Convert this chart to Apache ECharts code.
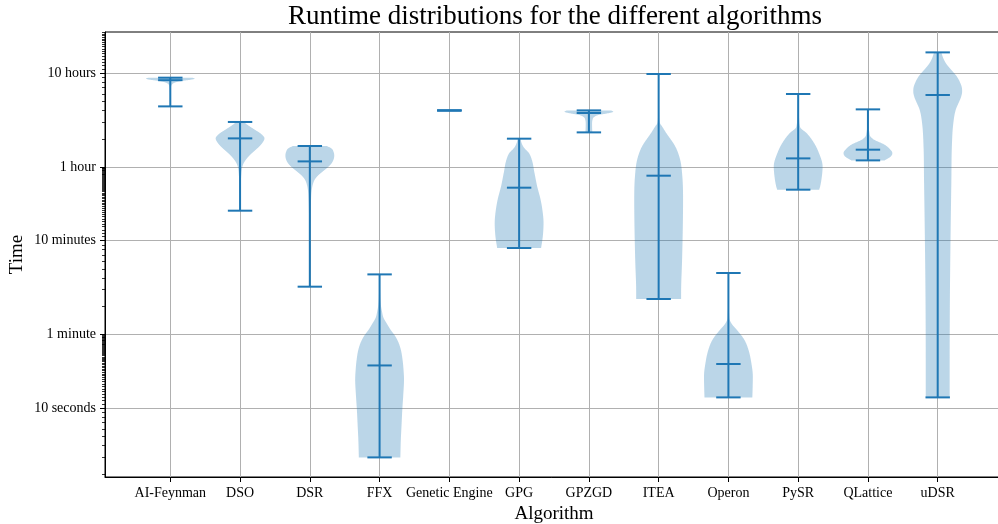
<!DOCTYPE html>
<html><head><meta charset="utf-8">
<script src="https://cdn.jsdelivr.net/npm/echarts@6/dist/echarts.min.js"></script>
<style>html,body{margin:0;padding:0;background:#fff}#c{width:998px;height:524px}</style>
</head><body><div id="c"></div>
<script>
// ---------- data (times in seconds) ----------
const categories = ['AI-Feynman','DSO','DSR','FFX','Genetic Engine','GPG','GPZGD','ITEA','Operon','PySR','QLattice','uDSR'];
const maxSeconds    = [32090, 10870, 6042, 262,  14400, 7225, 14430, 35120, 271,  21540, 14790, 59550];
const medianSeconds = [30190, 7278,  4147, 28.3, 14400, 2181, 13540, 2924,  29.3, 4463,  5521,  21020];
const minSeconds    = [15910, 1243,  194,  2.99, 14400, 499,  8428,  143.6, 12.96, 2077, 4251,  12.96];

// violin outlines: [seconds, relative half-width]
const profileAIFeynman = [[32090,0.9],[31310,1.0],[30560,0.85],[29820,0.55],[29100,0.32],[28400,0.18],[27380,0.08],[25750,0.03],[21180,0.012],[15910,0.006]];
const profileDSO = [[10870,0.15],[9927,0.35],[9004,0.6],[8165,0.85],[7278,1.0],[6551,0.92],[5940,0.78],[5387,0.6],[4887,0.42],[4324,0.24],[3826,0.12],[2996,0.05],[2077,0.03],[1243,0.015]];
const profileDSR = [[6042,0.7],[5656,0.9],[5257,0.97],[4767,1.0],[4324,0.97],[3921,0.88],[3556,0.72],[3225,0.52],[2924,0.33],[2652,0.2],[2347,0.12],[1978,0.07],[1627,0.05],[997,0.03],[479,0.02],[194,0.01]];
const profileFFX = [[262,0.01],[180.3,0.02],[124.9,0.05],[105.3,0.1],[90.9,0.16],[78.5,0.3],[67.8,0.45],[58.5,0.63],[50.6,0.76],[41.6,0.87],[32.6,0.94],[25.5,0.98],[20.0,1.0],[13.8,0.97],[9.6,0.93],[6.65,0.9],[4.61,0.87],[2.99,0.85]];
const profileGeneticEngine = [];
const profileGPG = [[7225,0.06],[6505,0.1],[5799,0.2],[5093,0.4],[4324,0.52],[3124,0.63],[2251,0.74],[1627,0.88],[1175,0.97],[920,1.0],[663,0.97],[499,0.9]];
const profileGPZGD = [[14430,0.9],[13980,1.0],[13310,0.7],[12990,0.45],[12460,0.25],[11500,0.15],[10170,0.13],[8428,0.14]];
const profileITEA = [[35120,0.005],[18740,0.01],[12990,0.025],[10600,0.05],[9759,0.14],[8306,0.31],[5984,0.68],[4324,0.88],[2874,0.97],[1627,1.0],[847,0.99],[375,0.96],[167.5,0.92],[143.6,0.92]];
const profileOperon = [[271,0.005],[141.1,0.01],[97.8,0.03],[86.6,0.05],[76.6,0.16],[67.8,0.34],[53.1,0.65],[41.6,0.82],[30.0,0.94],[21.6,1.0],[15.6,0.99],[12.96,0.98]];
const profilePySR = [[21540,0.005],[14680,0.02],[11500,0.04],[10170,0.06],[9385,0.1],[8306,0.34],[6505,0.65],[5093,0.85],[3671,1.0],[2874,0.97],[2251,0.9],[2077,0.86]];
const profileQLattice = [[14790,0.005],[10170,0.02],[8366,0.06],[7641,0.1],[7051,0.25],[6240,0.68],[5521,0.92],[5093,1.0],[4687,0.94],[4251,0.68]];
const profileUDSR = [[59550,0.15],[52320,0.22],[45190,0.35],[39020,0.55],[33130,0.78],[28400,0.92],[25130,0.99],[22790,1.0],[20170,0.96],[17420,0.86],[14680,0.74],[10600,0.64],[5984,0.58],[2652,0.56],[781,0.53],[153,0.5],[30.0,0.49],[12.96,0.49]];

const yTickSeconds = [10, 60, 600, 3600, 36000];
const yTickLabels = ['10 seconds', '1 minute', '10 minutes', '1 hour', '10 hours'];
const yMinSeconds = 1.852;
const yMaxSeconds = 98000;

// ---------- helpers ----------
const profiles = [profileAIFeynman, profileDSO, profileDSR, profileFFX, profileGeneticEngine, profileGPG,
  profileGPZGD, profileITEA, profileOperon, profilePySR, profileQLattice, profileUDSR];
const L = Math.log10;

function smoothProfile(prof) {
  const pts = prof.map(p => [L(p[0]), p[1]]).sort((a, b) => a[0] - b[0]);
  const n = pts.length;
  if (n < 2) return pts;
  const xs = pts.map(p => p[0]), ys = pts.map(p => p[1]);
  const d = [], m = new Array(n);
  for (let k = 0; k < n - 1; k++) d.push((ys[k + 1] - ys[k]) / (xs[k + 1] - xs[k]));
  m[0] = d[0]; m[n - 1] = d[n - 2];
  for (let k = 1; k < n - 1; k++) m[k] = (d[k - 1] * d[k] <= 0) ? 0 : (d[k - 1] + d[k]) / 2;
  for (let k = 0; k < n - 1; k++) {
    if (d[k] === 0) { m[k] = 0; m[k + 1] = 0; continue; }
    const a = m[k] / d[k], b = m[k + 1] / d[k], s = a * a + b * b;
    if (s > 9) { const t = 3 / Math.sqrt(s); m[k] = t * a * d[k]; m[k + 1] = t * b * d[k]; }
  }
  const out = [];
  for (let k = 0; k < n - 1; k++) {
    const h = xs[k + 1] - xs[k];
    for (let j = 0; j < 12; j++) {
      const t = j / 12, t2 = t * t, t3 = t2 * t;
      const v = (2 * t3 - 3 * t2 + 1) * ys[k] + (t3 - 2 * t2 + t) * h * m[k] + (-2 * t3 + 3 * t2) * ys[k + 1] + (t3 - t2) * h * m[k + 1];
      out.push([xs[k] + t * h, Math.max(0, v)]);
    }
  }
  out.push([xs[n - 1], ys[n - 1]]);
  return out;
}

const minorTickSeconds = [];
[[1, 10], [60, 600], [3600, 36000]].forEach(([unit, ten]) => {
  for (let k = 2; k <= 9; k++) minorTickSeconds.push(k * unit);
  for (let k = 11; k <= 59; k++) minorTickSeconds.push(k * ten / 10);
});
const minorTickValues = minorTickSeconds.filter(s => s > yMinSeconds && s < yMaxSeconds).map(L);

const HALF = 0.35, CAP = 0.175;
const lineColor = '#1f77b4';
const serif = '"Liberation Serif", "DejaVu Serif", serif';

function renderItem(params, api) {
  const i = params.dataIndex, x = i + 1;
  const children = [];
  const sm = smoothProfile(profiles[i]);
  if (sm.length > 1) {
    const right = sm.map(p => api.coord([x + p[1] * HALF, p[0]]));
    const left = sm.slice().reverse().map(p => api.coord([x - p[1] * HALF, p[0]]));
    children.push({ type: 'polygon', shape: { points: right.concat(left) },
      style: { fill: 'rgba(31,119,180,0.3)', stroke: null } });
  }
  const lyMax = L(maxSeconds[i]), lyMin = L(minSeconds[i]), lyMed = L(medianSeconds[i]);
  const seg = (a, b) => ({ type: 'line', shape: { x1: a[0], y1: a[1], x2: b[0], y2: b[1] },
    style: { stroke: lineColor, lineWidth: 2 } });
  children.push(seg(api.coord([x, lyMin]), api.coord([x, lyMax])));
  [lyMax, lyMin, lyMed].forEach(ly => children.push(seg(api.coord([x - CAP, ly]), api.coord([x + CAP, ly]))));
  return { type: 'group', children };
}

const chart = echarts.init(document.getElementById('c'), null, { renderer: 'canvas' });
const tickVals = yTickSeconds.map(L);
chart.setOption({
  animation: false,
  backgroundColor: '#fff',
  graphic: [{ type: 'text', x: 555, y: 17, z: 100,
    style: { text: 'Runtime distributions for the different algorithms', font: '27px ' + serif, fill: '#000', align: 'center', verticalAlign: 'middle' } }],
  grid: { left: 105, top: 32, width: 898, height: 445, show: true, borderColor: '#000', borderWidth: 1,
    backgroundColor: 'transparent', containLabel: false, outerBoundsMode: 'none' },
  xAxis: {
    type: 'value', min: 0.064, max: 12.936,
    name: 'Algorithm', nameLocation: 'middle', nameGap: 24,
    nameTextStyle: { fontFamily: serif, fontSize: 19, color: '#000' },
    axisLine: { show: true, lineStyle: { color: '#000', width: 1 } },
    axisTick: { show: true, length: 5, customValues: categories.map((c, i) => i + 1), lineStyle: { color: '#000', width: 1 } },
    axisLabel: { customValues: categories.map((c, i) => i + 1), margin: 9, fontFamily: serif, fontSize: 14, color: '#000',
      formatter: v => categories[Math.round(v) - 1] || '' },
    splitLine: { show: true, lineStyle: { color: '#b0b0b0', width: 1 } }
  },
  yAxis: [{
    type: 'value', min: L(yMinSeconds), max: L(yMaxSeconds),
    name: 'Time', nameLocation: 'middle', nameGap: 78, nameMoveOverlap: false,
    nameTextStyle: { fontFamily: serif, fontSize: 19, color: '#000' },
    axisLine: { show: true, lineStyle: { color: '#000', width: 1 } },
    axisTick: { show: true, length: 5, customValues: tickVals, lineStyle: { color: '#000', width: 1 } },
    axisLabel: { customValues: tickVals, margin: 9, fontFamily: serif, fontSize: 14, color: '#000',
      formatter: v => { let b = 0; tickVals.forEach((t, k) => { if (Math.abs(t - v) < Math.abs(tickVals[b] - v)) b = k; }); return yTickLabels[b]; } },
    splitLine: { show: true, lineStyle: { color: '#b0b0b0', width: 1 } }
  }, {
    type: 'value', min: L(yMinSeconds), max: L(yMaxSeconds), position: 'left', offset: 0,
    axisLine: { show: false },
    axisTick: { show: true, length: 3, customValues: minorTickValues, lineStyle: { color: '#000', width: 0.8 } },
    axisLabel: { show: false },
    splitLine: { show: false }
  }],
  series: [{
    type: 'custom', xAxisIndex: 0, yAxisIndex: 0,
    renderItem,
    encode: { x: 0, y: 1 },
    data: categories.map((c, i) => [i + 1, L(medianSeconds[i])]),
    z: 5
  }]
});
</script></body></html>
